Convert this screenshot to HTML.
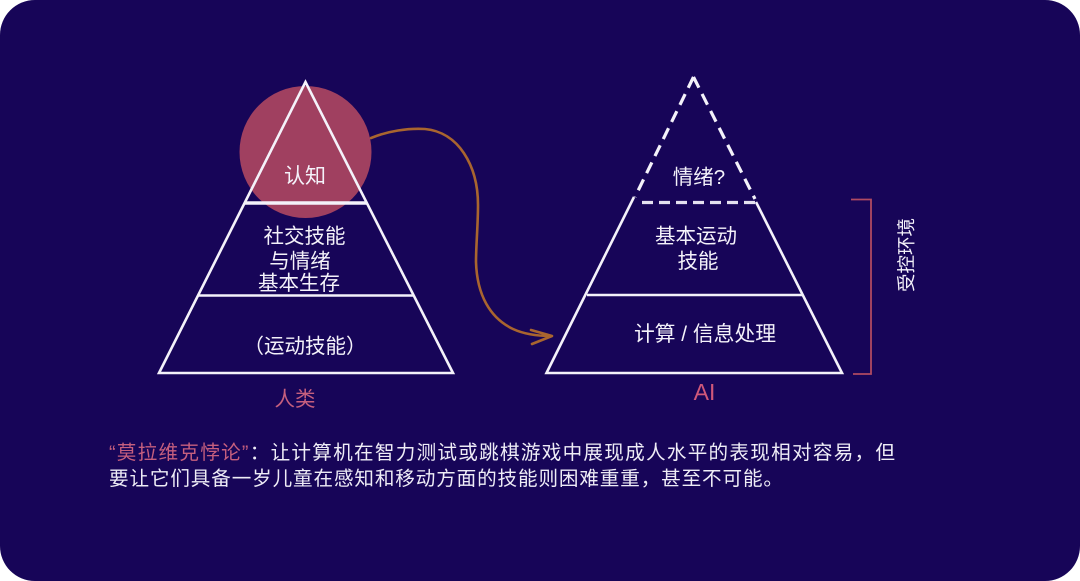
<!DOCTYPE html>
<html lang="zh">
<head>
<meta charset="utf-8">
<style>
html,body{margin:0;padding:0;background:#fff;width:1080px;height:581px;overflow:hidden}
svg{display:block}
text{font-family:"Liberation Sans","Noto Sans CJK SC",sans-serif}
</style>
</head>
<body>
<svg width="1080" height="581" viewBox="0 0 1080 581" xmlns="http://www.w3.org/2000/svg">
<rect x="0" y="0" width="1080" height="581" rx="35" ry="35" fill="#170558"/>
<circle cx="305.5" cy="152" r="66" fill="#a04060"/>
<!-- left pyramid -->
<g fill="none" stroke="#f4f2fa" stroke-linejoin="miter">
<polygon points="305.5,82 159,373 453,373" stroke-width="2.6"/>
<line x1="245" y1="203" x2="367" y2="203" stroke-width="3.4"/>
<line x1="198" y1="295.500" x2="413" y2="295.500" stroke-width="2.4"/>
</g>
<!-- right pyramid -->
<g fill="none" stroke="#f4f2fa">
<path d="M634,197 L546.500,373 L842,373 L756,202" stroke-width="2.6"/>
<line x1="587" y1="295" x2="802" y2="295" stroke-width="2.6"/>
<line x1="693.500" y1="77" x2="635" y2="197" stroke-width="3.2" stroke-dasharray="12 7"/>
<line x1="693.500" y1="77" x2="755" y2="199" stroke-width="3.2" stroke-dasharray="12 7"/>
<line x1="642" y1="202.500" x2="756" y2="202.500" stroke-width="3.2" stroke-dasharray="11 6" stroke="#e4e1f0"/>
</g>
<!-- curve -->
<g fill="none" stroke="#a9652f" stroke-width="2.600" stroke-linecap="round" stroke-linejoin="round">
<path d="M371,138 C388,131 408,128 425,129 C458,132 478,165 478,205 C478,225 476,245 476,262 C477,295 490,318 513,329 C526,335 540,336 551,336"/>
<path d="M531,330 L552,336 L532,344"/>
</g>
<!-- bracket -->
<path d="M851,199.500 H871 V374 H853" fill="none" stroke="#b04a62" stroke-width="1.800"/>
<!-- labels -->
<g fill="#f4f2fa" font-size="20.500" text-anchor="middle">
<text x="305" y="183" font-size="21">认知</text>
<text x="304.500" y="243">社交技能</text>
<text x="300" y="268">与情绪</text>
<text x="299" y="290">基本生存</text>
<text x="305" y="353">（运动技能）</text>
<text x="699" y="184">情绪?</text>
<text x="696" y="243">基本运动</text>
<text x="698" y="268">技能</text>
<text x="705" y="341" font-size="20.800">计算 / 信息处理</text>
<text transform="translate(913,255) rotate(-90)" font-size="18.500">受控环境</text>
</g>
<text x="295" y="406" font-size="20.500" fill="#c65f7e" text-anchor="middle">人类</text>
<text x="704.500" y="400" font-size="23" fill="#d0587a" text-anchor="middle">AI</text>
<!-- caption -->
<text x="109" y="459" font-size="19.600" fill="#eeecf6" textLength="786" lengthAdjust="spacing"><tspan fill="#c65f7e">“莫拉维克悖论”</tspan>：让计算机在智力测试或跳棋游戏中展现成人水平的表现相对容易，但</text>
<text x="109" y="485" font-size="19.600" fill="#eeecf6" textLength="674" lengthAdjust="spacing">要让它们具备一岁儿童在感知和移动方面的技能则困难重重，甚至不可能。</text>
</svg>
</body>
</html>
